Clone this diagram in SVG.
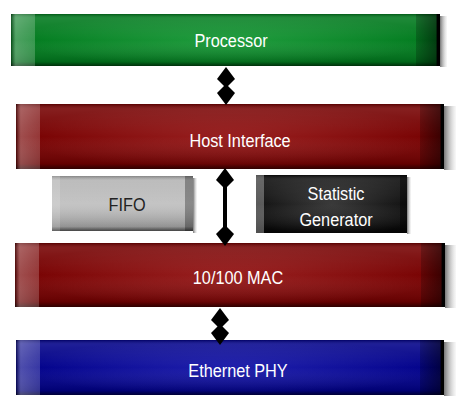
<svg xmlns="http://www.w3.org/2000/svg" width="457" height="401" viewBox="0 0 457 401">
<defs>
<style>
.lbl{font-family:"Liberation Sans",Arial,sans-serif;font-size:18.5px;fill:#fff;text-anchor:middle}
.dk{fill:#222}
.shaft{stroke:#000;stroke-width:4;fill:none}
</style>
<path id="head" d="M0,0 L9,12 L2,19 L-2,19 L-9,12 Z" fill="#000"/>
<linearGradient id="vsh" x1="0" y1="0" x2="0" y2="1">
<stop offset="0" stop-color="#000" stop-opacity="0.25"/>
<stop offset="0.08" stop-color="#fff" stop-opacity="0.12"/>
<stop offset="0.5" stop-color="#fff" stop-opacity="0"/>
<stop offset="0.92" stop-color="#000" stop-opacity="0.15"/>
<stop offset="1" stop-color="#000" stop-opacity="0.6"/>
</linearGradient>
<radialGradient id="glow" cx="0.5" cy="0.5" r="0.5">
<stop offset="0" stop-color="#fff" stop-opacity="0.12"/>
<stop offset="1" stop-color="#000" stop-opacity="0.15"/>
</radialGradient>
<linearGradient id="lb" x1="0" y1="0" x2="1" y2="0">
<stop offset="0" stop-color="#000" stop-opacity="0.4"/>
<stop offset="0.2" stop-color="#fff" stop-opacity="0.3"/>
<stop offset="1" stop-color="#fff" stop-opacity="0.2"/>
</linearGradient>
<linearGradient id="rb" x1="0" y1="0" x2="1" y2="0">
<stop offset="0" stop-color="#000" stop-opacity="0.2"/>
<stop offset="0.85" stop-color="#000" stop-opacity="0.5"/>
<stop offset="0.86" stop-color="#000" stop-opacity="1"/>
<stop offset="1" stop-color="#000" stop-opacity="1"/>
</linearGradient>
<linearGradient id="sh" x1="0" y1="0" x2="1" y2="0">
<stop offset="0" stop-color="#555" stop-opacity="0.8"/>
<stop offset="1" stop-color="#bbb" stop-opacity="0.1"/>
</linearGradient>
<linearGradient id="grayG" x1="0" y1="0" x2="0" y2="1">
<stop offset="0" stop-color="#b0b0b0"/>
<stop offset="0.5" stop-color="#c4c4c4"/>
<stop offset="1" stop-color="#a8a8a8"/>
</linearGradient>
<radialGradient id="blackG" cx="0.5" cy="0.5" r="0.6">
<stop offset="0" stop-color="#3a3a3a"/>
<stop offset="1" stop-color="#0a0a0a"/>
</radialGradient>
</defs>

<g id="processor">
<rect x="440" y="16" width="7" height="51" fill="url(#sh)"/>
<rect x="11" y="14" width="429" height="52" fill="#008e22"/>
<rect x="11" y="14" width="429" height="52" fill="url(#glow)"/>
<rect x="11" y="14" width="429" height="52" fill="url(#vsh)"/>
<rect x="11" y="14" width="24" height="52" fill="url(#lb)"/>
<rect x="416" y="14" width="24" height="52" fill="url(#rb)"/>
<text class="lbl" transform="translate(231,46.5) scale(0.88,1)">Processor</text>
</g>

<g id="host_interface">
<rect x="444" y="106" width="12" height="64" fill="url(#sh)"/>
<rect x="16" y="104" width="428" height="65" fill="#8a0000"/>
<rect x="16" y="104" width="428" height="65" fill="url(#glow)"/>
<rect x="16" y="104" width="428" height="65" fill="url(#vsh)"/>
<rect x="16" y="104" width="24" height="65" fill="url(#lb)"/>
<rect x="420" y="104" width="24" height="65" fill="url(#rb)"/>
<text class="lbl" transform="translate(240,147) scale(0.88,1)">Host Interface</text>
</g>

<g id="fifo">
<rect x="193" y="178" width="4" height="55" fill="url(#sh)"/>
<rect x="52" y="176" width="141" height="55" fill="url(#grayG)"/>
<rect x="52" y="176" width="141" height="55" fill="url(#vsh)"/>
<rect x="52" y="176" width="8" height="55" fill="#fff" fill-opacity="0.15"/>
<rect x="185" y="176" width="8" height="55" fill="#000" fill-opacity="0.3"/>
<text class="lbl dk" transform="translate(127,211) scale(0.88,1)">FIFO</text>
</g>

<g id="statistic_generator">
<rect x="407" y="177" width="4" height="57" fill="url(#sh)"/>
<rect x="256" y="175" width="151" height="58" fill="url(#blackG)"/>
<rect x="256" y="175" width="151" height="58" fill="url(#vsh)"/>
<rect x="256" y="175" width="8" height="58" fill="#fff" fill-opacity="0.3"/>
<rect x="400" y="175" width="7" height="58" fill="#000" fill-opacity="0.4"/>
<text class="lbl" transform="translate(336,200) scale(0.88,1)">Statistic</text>
<text class="lbl" transform="translate(336,226) scale(0.88,1)">Generator</text>
</g>

<g id="mac">
<rect x="445" y="245" width="11" height="63" fill="url(#sh)"/>
<rect x="15" y="243" width="430" height="64" fill="#8a0000"/>
<rect x="15" y="243" width="430" height="64" fill="url(#glow)"/>
<rect x="15" y="243" width="430" height="64" fill="url(#vsh)"/>
<rect x="15" y="243" width="24" height="64" fill="url(#lb)"/>
<rect x="421" y="243" width="24" height="64" fill="url(#rb)"/>
<text class="lbl" transform="translate(238,284) scale(0.88,1)">10/100 MAC</text>
</g>

<g id="ethernet_phy">
<rect x="444" y="342" width="12" height="54" fill="url(#sh)"/>
<rect x="16" y="340" width="428" height="55" fill="#0000a0"/>
<rect x="16" y="340" width="428" height="55" fill="url(#glow)"/>
<rect x="16" y="340" width="428" height="55" fill="url(#vsh)"/>
<rect x="16" y="340" width="24" height="55" fill="url(#lb)"/>
<rect x="420" y="340" width="24" height="55" fill="url(#rb)"/>
<text class="lbl" transform="translate(238,377) scale(0.88,1)">Ethernet PHY</text>
</g>

<g id="connectors">
<path class="shaft" d="M226,80 L226,93"/>
<use href="#head" transform="translate(226,67)"/>
<use href="#head" transform="translate(226,105) scale(1,-1)"/>
<path class="shaft" d="M225,180 L225,234"/>
<use href="#head" transform="translate(225,168)"/>
<use href="#head" transform="translate(225,246) scale(1,-1)"/>
<path class="shaft" d="M220,320 L220,333"/>
<use href="#head" transform="translate(220,308)"/>
<use href="#head" transform="translate(220,345) scale(1,-1)"/>
</g>
</svg>
